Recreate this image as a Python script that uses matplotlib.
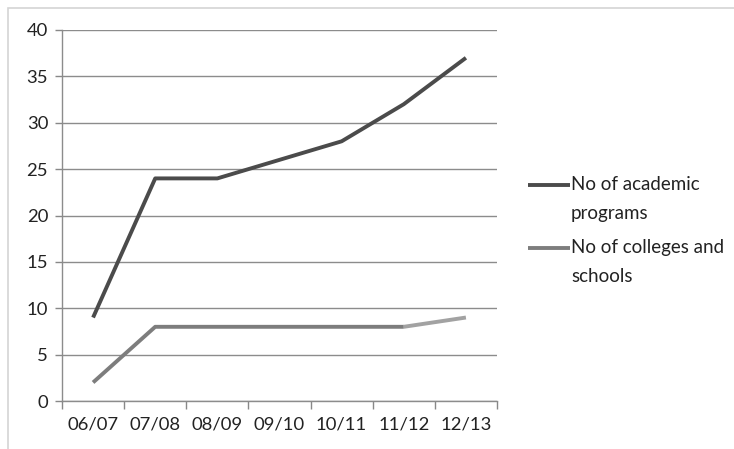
import matplotlib
matplotlib.use("Agg")
import matplotlib.pyplot as plt
from matplotlib.patches import Rectangle
from matplotlib.lines import Line2D

plt.rcParams['font.family'] = ['Lato', 'DejaVu Sans']

years = ["06/07", "07/08", "08/09", "09/10", "10/11", "11/12", "12/13"]
academic_programs = [9, 24, 24, 26, 28, 32, 37]
colleges_schools = [2, 8, 8, 8, 8, 8, 9]
label_programs = "No of academic\nprograms"
label_colleges = "No of colleges and\nschools"
y_ticks = [0, 5, 10, 15, 20, 25, 30, 35, 40]

W, H = 734, 449
fig = plt.figure(figsize=(W / 100, H / 100), dpi=100)
fig.patches.append(Rectangle((8 / W, -0.1), 1.2, (1 - 8 / H) + 0.1,
                             transform=fig.transFigure, fill=False,
                             edgecolor="#d4d4d4", linewidth=1.2))
ax = fig.add_axes([62 / W, 1 - 401 / H, (497 - 62) / W, (401 - 30) / H])

c_prog, c_coll, c_coll_end = "#4b4b4b", "#7d7d7d", "#a2a2a2"
x = list(range(len(years)))
ax.plot(x, academic_programs, color=c_prog, linewidth=2.8,
        solid_capstyle="butt", zorder=3)
ax.plot(x[:-1], colleges_schools[:-1], color=c_coll, linewidth=2.8,
        solid_capstyle="butt", zorder=3)
ax.plot(x[-2:], colleges_schools[-2:], color=c_coll_end, linewidth=2.8,
        solid_capstyle="butt", zorder=3)

ax.set_xlim(-0.5, len(years) - 0.5)
ax.set_ylim(0, 40)
ax.set_yticks(y_ticks)
ax.set_yticklabels([str(v) for v in y_ticks], fontsize=13.3, color="#222222")
ax.set_xticks(x)
ax.set_xticklabels(years, fontsize=13.3, color="#222222")
ax.set_xticks([i - 0.5 for i in range(len(years) + 1)], minor=True)
ax.tick_params(axis="x", which="major", length=0, pad=11)
ax.tick_params(axis="x", which="minor", length=6, color="#888888", width=1, direction="out")
ax.tick_params(axis="y", length=5, color="#888888", width=1, direction="out", pad=5)

ax.grid(axis="y", color="#8c8c8c", linewidth=1)
ax.set_axisbelow(True)
for side in ("top", "right"):
    ax.spines[side].set_visible(False)
for side in ("left", "bottom"):
    ax.spines[side].set_color("#8c8c8c")
    ax.spines[side].set_linewidth(1)

# legend: key line aligned with the first text line of each entry
entries = [(label_programs, c_prog, 185), (label_colleges, c_coll, 248)]
line_gap = 28
for text, color, ypix in entries:
    yf = 1 - ypix / H
    fig.add_artist(Line2D([528 / W, 570 / W], [yf, yf], transform=fig.transFigure,
                          color=color, linewidth=2.8, solid_capstyle="butt"))
    for i, part in enumerate(text.split("\n")):
        fig.text(571 / W, 1 - (ypix + i * line_gap) / H, part, fontsize=13.5,
                 color="#222222", ha="left", va="center")

fig.savefig("out.png", dpi=100, facecolor="white")
